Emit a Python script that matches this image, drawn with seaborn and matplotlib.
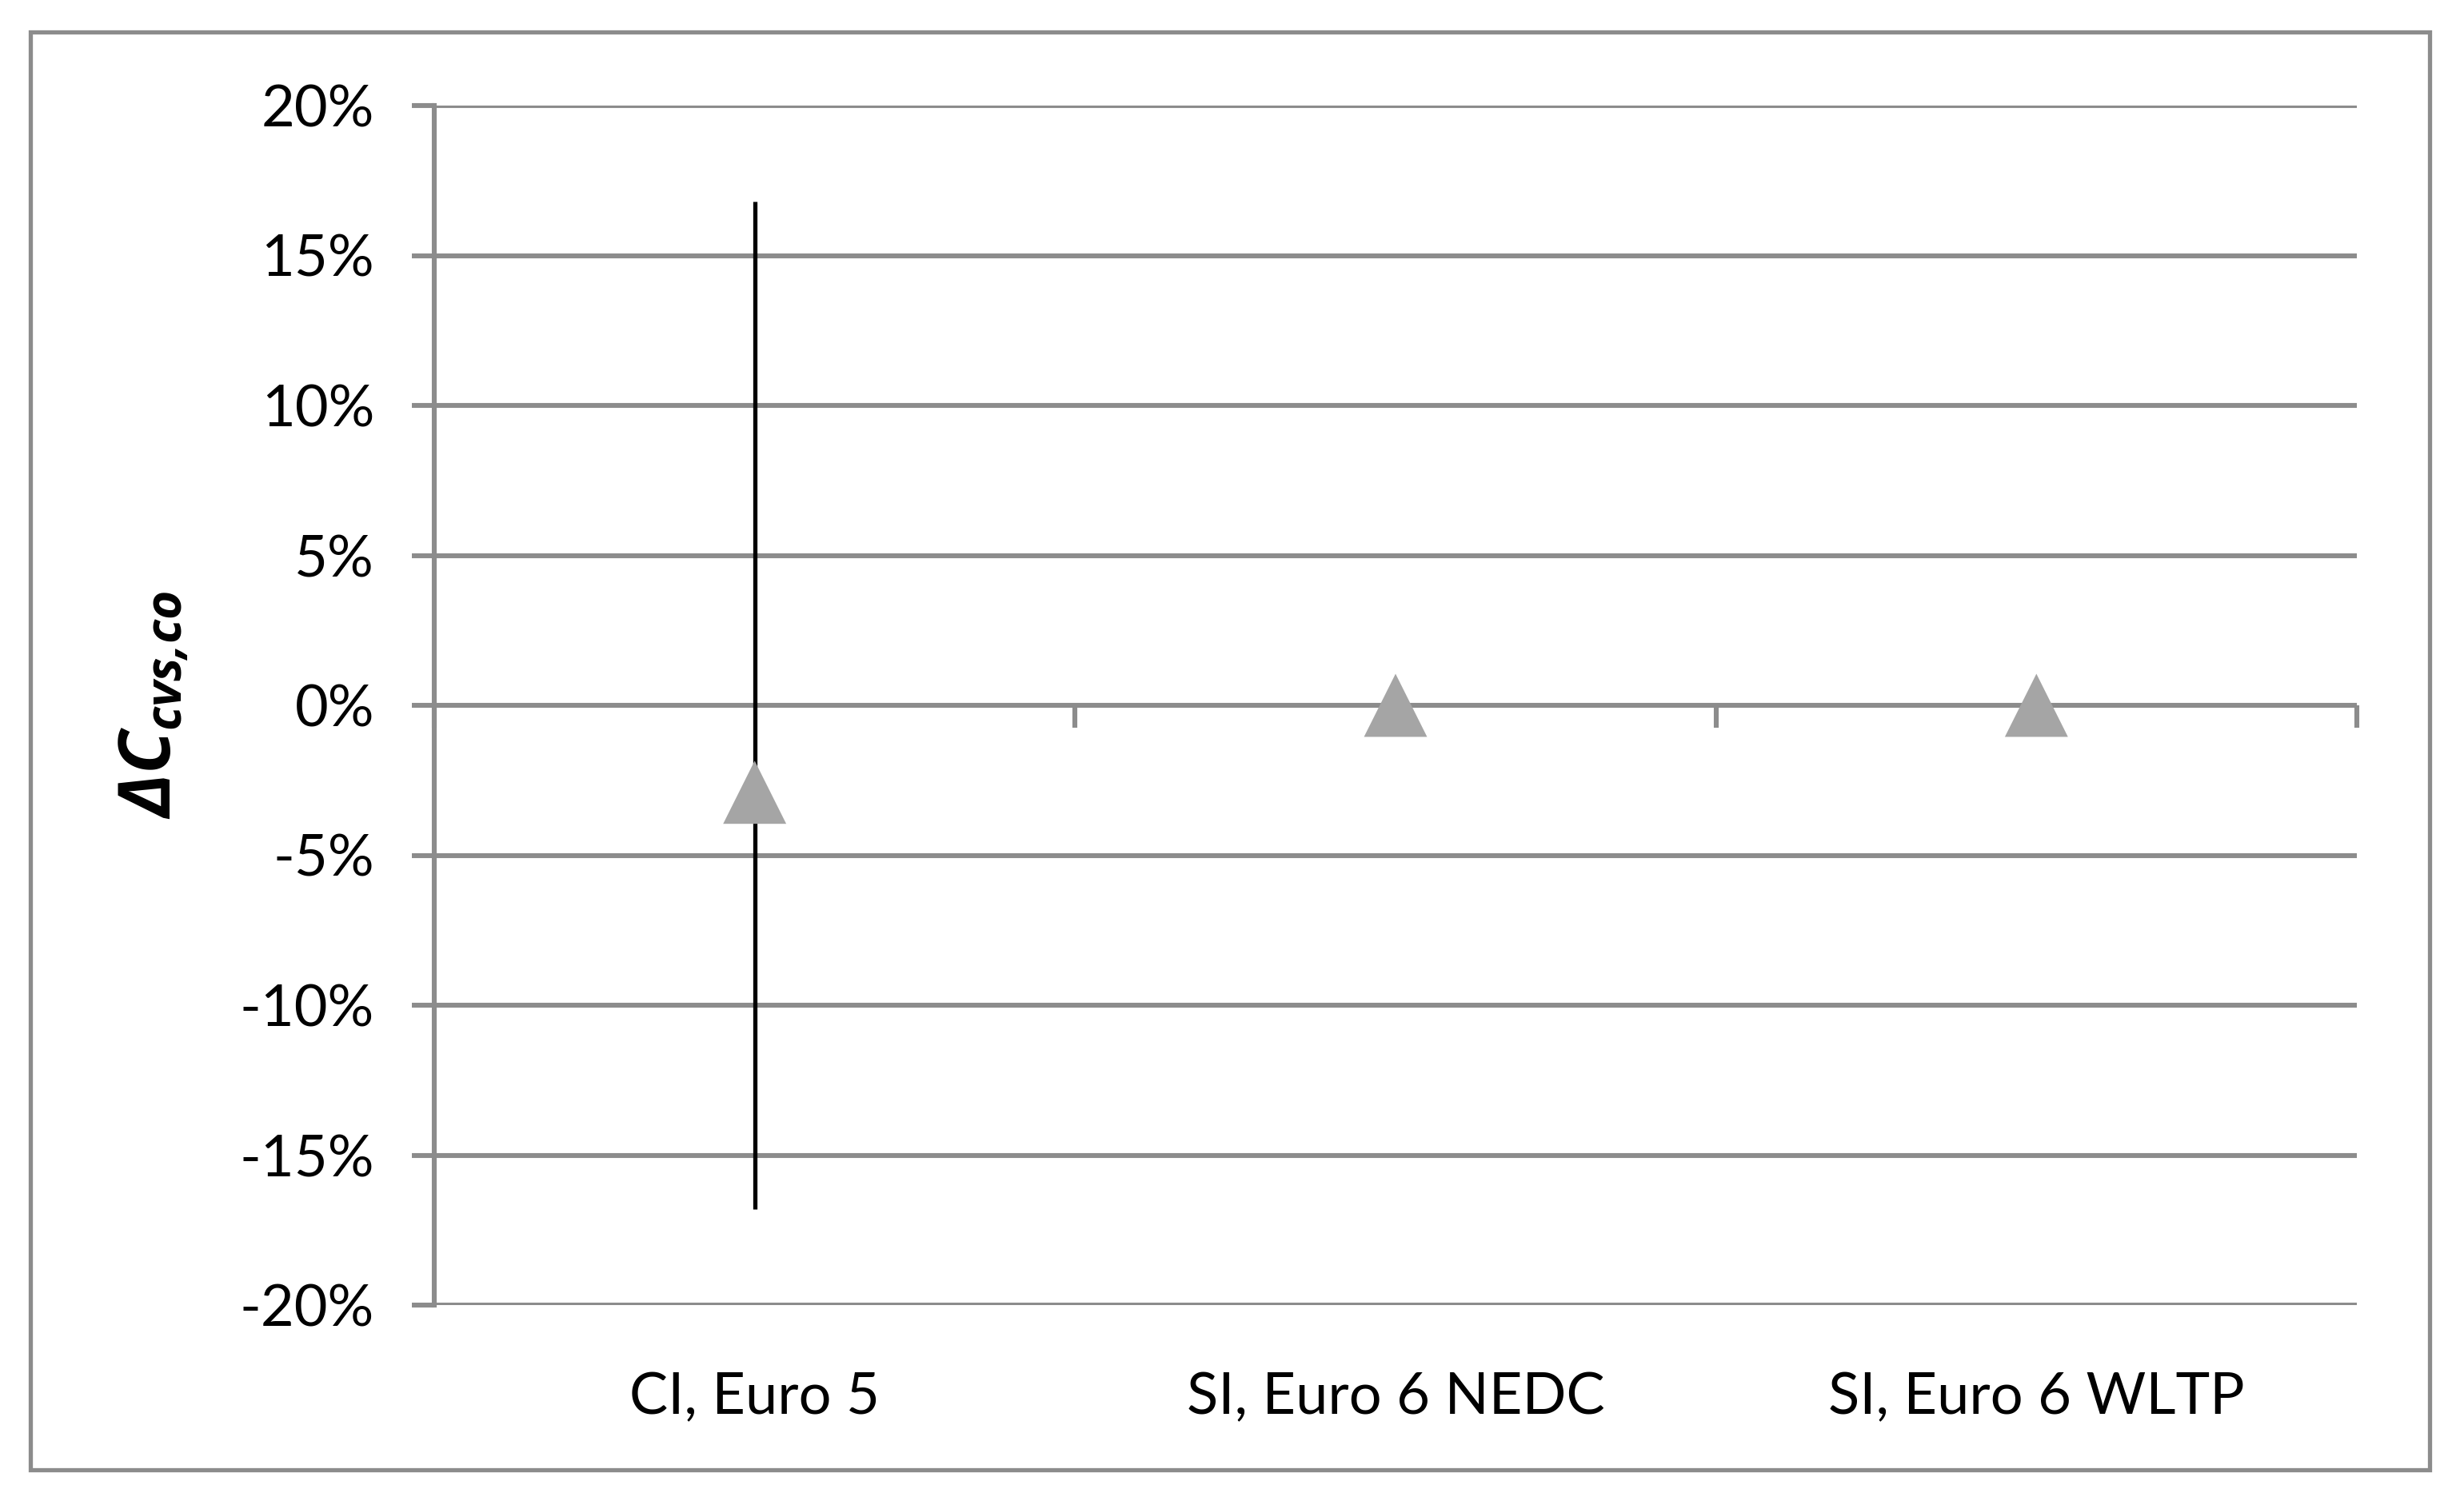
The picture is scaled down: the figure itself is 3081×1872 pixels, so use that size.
import numpy as np
import pandas as pd
import seaborn as sns
import matplotlib
matplotlib.use("Agg")
import matplotlib.pyplot as plt
from matplotlib.patches import Rectangle

# ---- data ----
categories = ["CI, Euro 5", "SI, Euro 6 NEDC", "SI, Euro 6 WLTP"]
values = [-2.9, 0.0, 0.0]            # percent
err_low = [-16.8, 0.0, 0.0]          # lower end of range, percent
err_high = [16.8, 0.0, 0.0]          # upper end of range, percent
ytick_values = [-20, -15, -10, -5, 0, 5, 10, 15, 20]
ytick_labels = [f"{v}%" for v in ytick_values]

sns.set_theme(style="white")
plt.rcParams["font.family"] = ["Lato", "DejaVu Sans"]
plt.rcParams["mathtext.fontset"] = "custom"
plt.rcParams["mathtext.rm"] = "Open Sans:bold:italic"
plt.rcParams["mathtext.it"] = "Open Sans:bold:italic"
plt.rcParams["mathtext.bf"] = "Open Sans:bold:italic"

GRID = "#8c8c8c"
MARK = "#a5a5a5"

df = pd.DataFrame({"cat": categories, "val": values})

fig = plt.figure(figsize=(15.405, 9.36), dpi=200)
ax = fig.add_axes([543 / 3081, 1 - 1632 / 1872, (2947 - 543) / 3081, (1632 - 132) / 1872])

# outer border
fig.patches.append(Rectangle((38 / 3081, 1 - 1838 / 1872), (3038 - 38) / 3081, (1838 - 40) / 1872,
                             transform=fig.transFigure, fill=False, edgecolor=GRID, linewidth=1.9,
                             zorder=0))

# error bars
xpos = np.arange(len(categories))
vals = np.array(values)
lower = vals - np.array(err_low)
upper = np.array(err_high) - vals
mask = (lower + upper) > 0
ax.errorbar(xpos[mask], vals[mask], yerr=[lower[mask], upper[mask]], fmt="none",
            ecolor="black", elinewidth=1.9, capsize=0, zorder=3)

# markers
sns.scatterplot(data=df, x="cat", y="val", marker="^", s=28.4 ** 2, color=MARK,
                edgecolor="none", linewidth=0, ax=ax, zorder=4)

ax.set_xlim(-0.5, len(categories) - 0.5)
ax.set_ylim(-20, 20)
ax.set_yticks(ytick_values)
ax.set_yticklabels(ytick_labels)
ax.yaxis.grid(True, color=GRID, linewidth=2.2, zorder=1)
ax.set_axisbelow(True)

for s in ["top", "right", "bottom"]:
    ax.spines[s].set_visible(False)
ax.spines["left"].set_color(GRID)
ax.spines["left"].set_linewidth(2.2)

ax.tick_params(axis="y", which="major", direction="out", length=10, width=2.2, color=GRID,
               labelsize=26, labelcolor="black", pad=17, left=True)
ax.set_xticks(xpos)
ax.set_xticklabels(categories)
ax.tick_params(axis="x", which="major", length=0, labelsize=26, labelcolor="black", pad=30)
ax.set_xlabel("")

# category separator ticks on the zero line (pointing downward)
sec = ax.secondary_xaxis(0.5)
sec.set_xticks(np.arange(len(categories) + 1) - 0.5)
sec.set_xticklabels([])
for sp in sec.spines.values():
    sp.set_visible(False)
sec.tick_params(axis="x", direction="in", length=10, width=2.2, color=GRID)

ax.set_ylabel(r"$\Delta C_{cvs{,}co}$", fontsize=32, color="black", labelpad=22)

fig.savefig("out.png", dpi=200, facecolor="white")
